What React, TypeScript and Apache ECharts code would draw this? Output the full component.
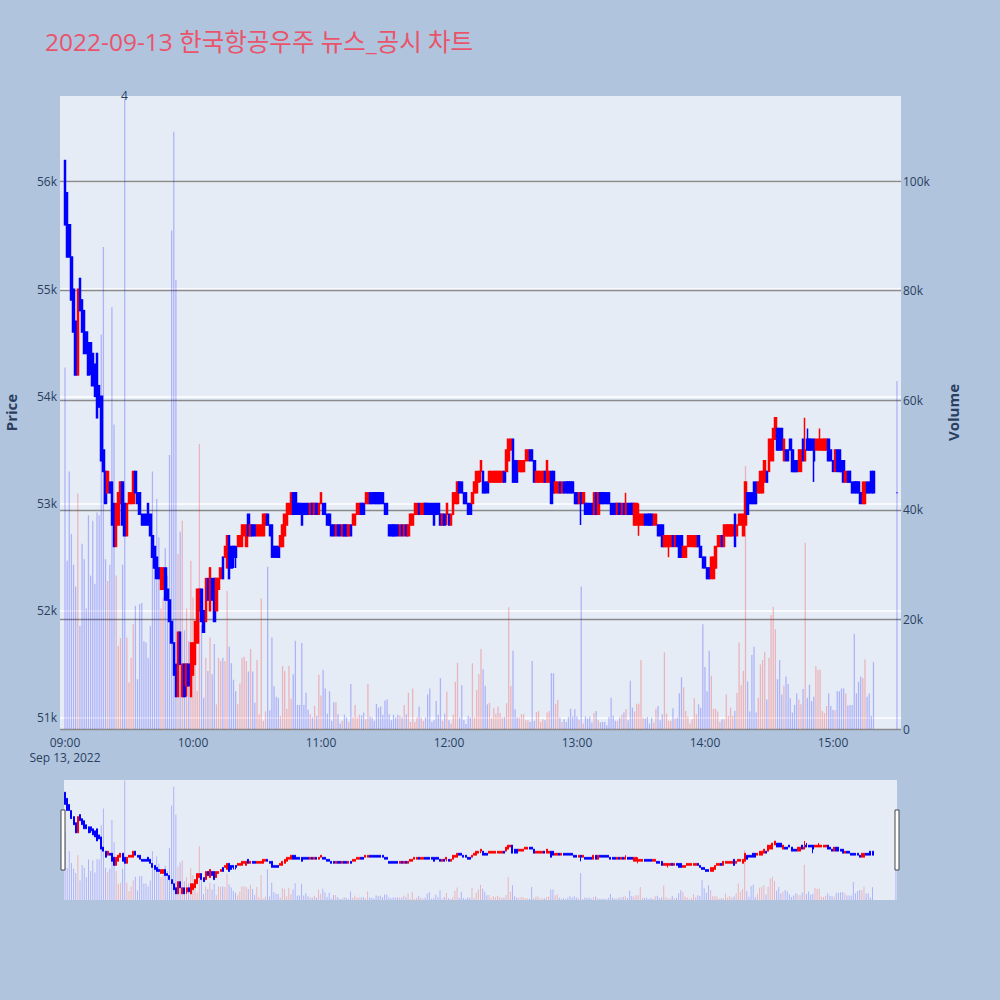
import React, { useEffect, useRef } from 'react';
import * as echarts from 'echarts';

const TITLE = '2022-09-13 한국항공우주 뉴스_공시 차트';
const DATE_LABEL = 'Sep 13, 2022';

// minute offsets from 09:00 (continuous session 09:00-15:19, closing auction 15:30)
const sessionMinutes: number[] = Array.from({ length: 380 }, (_, i) => i);
const closingMinutes: number[] = [390];
const minuteOffsets: number[] = sessionMinutes.concat(closingMinutes);

// [open, close, low, high]
const candles: number[][] = [
  [56200,55600,55600,56200],[55900,55300,55300,55900],[55600,55300,55300,55600],[55300,54900,54900,55300],[55000,54600,54600,55000],
  [54700,54200,54200,54700],[54200,55000,54200,55000],[55100,54800,54800,55100],[54900,54600,54600,54900],[54800,54400,54400,54800],
  [54600,54400,54400,54600],[54500,54200,54200,54500],[54500,54300,54200,54500],[54400,54100,54100,54400],[54300,54000,54000,54300],
  [54400,53800,53800,54400],[54100,53900,53900,54100],[54000,53400,53400,54000],[53500,53300,53300,53500],[53300,53000,53000,53300],
  [53100,53300,53100,53300],[53200,53100,53100,53200],[53200,52800,52800,53200],[53000,52600,52600,53000],[52600,53000,52600,53000],
  [52800,53100,52800,53100],[53000,53200,53000,53200],[53200,52800,52800,53200],[53000,52700,52700,53000],[52700,53000,52700,53000],
  [53000,53100,53000,53100],[53000,53100,53000,53100],[53000,53300,53000,53300],[53300,53100,53100,53300],[53100,53000,53000,53100],
  [53100,52900,52900,53100],[52900,52800,52800,52900],[52900,52800,52800,52900],[52900,52800,52800,52900],[53000,52800,52800,53000],
  [52900,52700,52700,52900],[52700,52500,52500,52700],[52600,52400,52400,52600],[52500,52300,52300,52500],[52400,52300,52300,52400],
  [52200,52400,52200,52400],[52200,52400,52200,52400],[52400,52100,52100,52400],[52200,52100,52100,52200],[52100,51900,51900,52100],
  [51900,51700,51700,51900],[51700,51400,51400,51700],[51500,51200,51200,51500],[51200,51800,51200,51800],[51800,51500,51500,51800],
  [51200,51500,51200,51500],[51500,51200,51200,51500],[51300,51500,51200,51500],[51500,51300,51300,51500],[51200,51700,51200,51700],
  [51400,51700,51400,51700],[51500,51900,51500,51900],[51700,52200,51700,52200],[52000,52200,52000,52200],[52200,51900,51900,52200],
  [52000,51800,51800,52000],[51900,52300,51900,52300],[52300,52100,52100,52300],[52000,52400,52000,52400],[52300,52100,52100,52300],
  [52300,51900,51900,52300],[52000,52300,52000,52300],[52200,52300,52200,52300],[52300,52400,52300,52400],[52500,52300,52300,52500],
  [52500,52600,52500,52600],[52400,52700,52400,52700],[52700,52300,52300,52700],[52600,52400,52400,52600],[52600,52500,52400,52600],
  [52600,52500,52400,52600],[52600,52700,52600,52700],[52600,52700,52600,52700],[52600,52800,52600,52800],[52700,52800,52700,52800],
  [52600,52800,52600,52800],[52900,52700,52700,52900],[52700,52800,52700,52800],[52800,52700,52700,52800],[52800,52700,52700,52800],
  [52700,52800,52700,52800],[52700,52800,52700,52800],[52700,52800,52700,52800],[52700,52900,52700,52900],[52800,52900,52800,52900],
  [52900,52800,52800,52900],[52800,52700,52700,52800],[52800,52500,52500,52800],[52600,52500,52500,52600],[52600,52500,52500,52600],
  [52600,52500,52500,52600],[52600,52700,52600,52700],[52600,52800,52600,52800],[52700,52900,52700,52900],[52800,53000,52800,53000],
  [52900,53000,52900,53000],[52900,53100,52900,53100],[53100,52900,52900,53100],[53100,52900,52900,53100],[53000,52900,52900,53000],
  [53000,52900,52900,53000],[53000,52800,52800,53000],[53000,52900,52900,53000],[53000,52900,52900,53000],[53000,52900,52900,53000],
  [52900,53000,52900,53000],[53000,52900,52900,53000],[52900,53000,52900,53000],[53000,52900,52900,53000],[52900,53000,52900,53000],
  [53000,53100,53000,53100],[53000,52900,52900,53000],[53000,52900,52900,53000],[52900,52800,52800,52900],[52900,52800,52800,52900],
  [52800,52700,52700,52800],[52800,52700,52700,52800],[52700,52800,52700,52800],[52800,52700,52700,52800],[52800,52700,52700,52800],
  [52700,52800,52700,52800],[52800,52700,52700,52800],[52800,52700,52700,52800],[52700,52800,52700,52800],[52800,52700,52700,52800],
  [52800,52900,52800,52900],[52800,52900,52800,52900],[52900,53000,52900,53000],[52900,53000,52900,53000],[53000,52900,52900,53000],
  [53000,52900,52900,53000],[53000,53100,53000,53100],[53000,53100,53000,53100],[53100,53000,53000,53100],[53100,53000,53000,53100],
  [53100,53000,53000,53100],[53100,53000,53000,53100],[53100,53000,53000,53100],[53100,53000,53000,53100],[53100,53000,53000,53100],
  [53000,52900,52900,53000],[53000,52900,52900,53000],[52800,52700,52700,52800],[52800,52700,52700,52800],[52800,52700,52700,52800],
  [52800,52700,52700,52800],[52800,52700,52700,52800],[52700,52800,52700,52800],[52800,52700,52700,52800],[52700,52800,52700,52800],
  [52800,52700,52700,52800],[52700,52800,52700,52800],[52800,52900,52800,52900],[52800,52900,52800,52900],[52900,53000,52900,53000],
  [52900,53000,52900,53000],[53000,52900,52900,53000],[52900,53000,52900,53000],[52900,53000,52900,53000],[53000,52900,52900,53000],
  [53000,52900,52900,53000],[53000,52900,52900,53000],[53000,52900,52900,53000],[53000,52800,52800,53000],[53000,52900,52900,53000],
  [53000,52900,52900,53000],[52900,52800,52800,52900],[52800,52900,52800,52900],[52900,52800,52800,52900],[52900,53000,52800,53000],
  [52900,52800,52800,52900],[52800,52900,52800,52900],[52900,53100,52900,53100],[53000,53100,53000,53100],[53000,53200,53000,53200],
  [53200,53100,53100,53200],[53200,53100,53100,53200],[53100,53000,53000,53100],[53100,53000,53000,53100],[53000,52900,52900,53000],
  [53000,52900,52900,53000],[53000,53100,53000,53100],[53100,53200,53100,53200],[53100,53300,53100,53300],[53200,53300,53200,53300],
  [53300,53400,53200,53400],[53300,53100,53100,53300],[53200,53100,53100,53200],[53200,53100,53100,53200],[53200,53300,53200,53300],
  [53200,53300,53200,53300],[53200,53300,53200,53300],[53200,53300,53200,53300],[53200,53300,53200,53300],[53200,53300,53200,53300],
  [53200,53300,53200,53300],[53300,53200,53200,53300],[53300,53500,53300,53500],[53400,53600,53400,53600],[53500,53600,53500,53600],
  [53600,53200,53200,53600],[53400,53200,53200,53400],[53400,53200,53200,53400],[53300,53400,53300,53400],[53300,53400,53300,53400],
  [53300,53400,53300,53400],[53400,53500,53400,53500],[53400,53500,53400,53500],[53500,53400,53400,53500],[53500,53400,53400,53500],
  [53400,53200,53200,53400],[53200,53300,53200,53300],[53200,53300,53200,53300],[53200,53300,53200,53300],[53200,53300,53200,53300],
  [53300,53200,53200,53300],[53200,53400,53200,53400],[53200,53300,53200,53300],[53300,53000,53000,53300],[53300,53100,53100,53300],
  [53100,53200,53100,53200],[53100,53200,53100,53200],[53200,53100,53100,53200],[53100,53200,53100,53200],[53200,53100,53100,53200],
  [53200,53100,53100,53200],[53200,53100,53100,53200],[53200,53100,53100,53200],[53200,53100,53100,53200],[53100,53000,53000,53100],
  [53100,53000,53000,53100],[53000,53100,53000,53100],[53100,53000,52800,53100],[53000,53100,53000,53100],[53000,52900,52900,53000],
  [53000,52900,52900,53000],[53000,52900,52900,53000],[53000,52900,52900,53000],[52900,53100,52900,53100],[53100,52900,52900,53100],
  [52900,53100,52900,53100],[53100,53000,53000,53100],[53100,53000,53000,53100],[53100,53000,53000,53100],[53100,53000,53000,53100],
  [53100,53000,53000,53100],[53000,52900,52900,53000],[53000,52900,52900,53000],[53000,52900,52900,53000],[52900,53000,52900,53000],
  [53000,52900,52900,53000],[52900,53000,52900,53000],[53000,52900,52900,53000],[52900,53000,52900,53100],[53000,52900,52900,53000],
  [53000,52900,52900,53000],[53000,52900,52900,53000],[52800,53000,52800,53000],[52800,53000,52800,53000],[52800,52900,52700,53000],
  [52800,52900,52800,52900],[52800,52900,52800,52900],[52900,52800,52800,52900],[52900,52800,52800,52900],[52900,52800,52800,52900],
  [52900,52800,52800,52900],[52800,52900,52800,52900],[52800,52900,52800,52900],[52800,52700,52700,52800],[52800,52700,52700,52800],
  [52800,52600,52600,52800],[52600,52700,52600,52700],[52600,52700,52600,52700],[52600,52700,52500,52700],[52600,52700,52600,52700],
  [52700,52600,52600,52700],[52600,52700,52600,52700],[52700,52600,52600,52700],[52700,52500,52500,52700],[52700,52500,52500,52700],
  [52500,52600,52500,52600],[52500,52600,52500,52600],[52600,52700,52600,52700],[52600,52700,52600,52700],[52600,52700,52600,52700],
  [52600,52700,52600,52700],[52600,52700,52600,52700],[52700,52600,52600,52700],[52600,52500,52500,52600],[52500,52400,52400,52500],
  [52500,52400,52400,52500],[52400,52300,52300,52400],[52400,52300,52300,52400],[52300,52500,52300,52500],[52300,52500,52300,52500],
  [52400,52600,52400,52600],[52600,52700,52600,52700],[52600,52700,52600,52700],[52700,52600,52600,52700],[52600,52800,52600,52800],
  [52700,52800,52700,52800],[52700,52800,52700,52800],[52700,52800,52700,52800],[52700,52800,52700,52800],[52900,52600,52600,52900],
  [52700,52800,52700,52800],[52800,52900,52800,52900],[52800,52900,52800,52900],[52700,52900,52700,52900],[52800,53200,52800,53200],
  [53100,52900,52900,53100],[53100,53000,53000,53100],[53100,53000,53000,53100],[53200,53000,53000,53200],[53200,53000,53000,53200],
  [53100,53200,53100,53200],[53100,53300,53100,53300],[53100,53300,53100,53300],[53200,53400,53200,53400],[53300,53200,53200,53300],
  [53300,53600,53300,53600],[53400,53600,53400,53600],[53400,53700,53400,53700],[53600,53800,53600,53800],[53700,53500,53500,53700],
  [53700,53500,53500,53700],[53700,53500,53500,53700],[53400,53600,53400,53600],[53500,53400,53400,53500],[53500,53400,53400,53500],
  [53600,53500,53500,53600],[53500,53300,53300,53500],[53400,53300,53300,53400],[53400,53300,53300,53400],[53300,53500,53300,53500],
  [53300,53500,53300,53500],[53600,53400,53400,53600],[53400,53500,53400,53800],[53600,53500,53500,53700],[53600,53500,53500,53600],
  [53600,53500,53500,53600],[53600,53400,53200,53600],[53500,53600,53500,53600],[53500,53600,53500,53600],[53500,53600,53500,53700],
  [53500,53600,53500,53600],[53500,53600,53500,53600],[53500,53600,53500,53600],[53600,53400,53400,53600],[53500,53400,53400,53500],
  [53400,53300,53300,53400],[53300,53500,53300,53500],[53500,53300,53300,53500],[53500,53300,53300,53500],[53400,53300,53300,53400],
  [53400,53200,53200,53400],[53200,53300,53200,53300],[53300,53200,53200,53300],[53300,53200,53200,53300],[53200,53100,53100,53200],
  [53200,53100,53100,53200],[53200,53100,53100,53200],[53200,53100,53100,53200],[53100,53000,53000,53100],[53000,53200,53000,53200],
  [53000,53200,53000,53200],[53200,53100,53100,53200],[53200,53100,53100,53200],[53300,53100,53100,53300],[53300,53100,53100,53300],
  [53100,53100,53100,53100],
];

const volumes: number[] = [
  66000,30700,47000,35600,30000,26000,43000,18800,33800,31000,
  22000,39000,28000,38000,26500,39500,39000,72000,88000,31000,
  27000,30000,77000,55600,28000,15200,16600,30000,115000,16700,
  8500,13000,19100,22500,9100,22800,23000,16000,15800,13000,
  18800,47000,32000,42000,35000,22000,24000,33000,28000,50000,
  91000,109000,82000,32000,36000,38000,18000,22000,16000,30700,
  24000,12400,6900,52000,19000,5700,13000,10600,16700,10000,
  15500,4500,13000,12400,13000,12400,25200,15000,12000,9000,
  6900,4500,8300,13000,13200,12400,10500,14600,10500,4800,
  12600,2700,23800,1500,3200,29600,3400,16700,7800,5900,
  5700,2400,11500,10600,3700,11500,5500,10000,16100,4400,
  4400,15700,4400,6600,3500,2700,2100,4200,2400,9900,
  6100,10800,7400,2800,6900,1500,4900,4900,2700,1000,
  1500,2600,2100,1300,8200,2100,4400,2100,2600,2500,
  3000,1800,8200,2300,2100,1500,4600,3900,4100,2600,
  5200,5400,2700,1600,2600,2100,2600,2400,2100,4400,
  2700,6600,1300,7400,1300,2100,4100,2100,1500,2100,
  6300,7400,1300,1600,5100,2600,9300,1500,2800,6800,
  1600,1000,2600,8600,12100,2100,8000,1600,900,2400,
  2100,12000,2100,7100,10000,14600,10900,7900,4500,4800,
  2000,3900,2800,4100,2900,2100,2200,4700,22200,7900,
  14300,3600,2100,2100,2700,2700,1600,1600,1300,12400,
  1500,3100,3300,1300,1800,1600,3000,3300,10200,10200,
  4600,5300,2100,1300,1800,1300,2200,3700,2300,3600,
  2300,1700,26000,1000,2300,1900,2300,1200,2900,3300,
  1600,1200,1300,1300,700,2200,5700,2400,1500,1500,
  2100,2600,3000,3600,1600,8800,3900,3200,4600,4600,
  12600,2100,1900,2200,1000,2100,1200,3700,4200,1600,
  2700,14000,2800,1500,1500,3800,1900,2100,6500,9400,
  7600,3300,2300,1000,1800,5600,2700,4500,3900,19100,
  11300,6900,14300,9700,3700,3700,3200,1300,1800,1800,
  6300,2400,3900,2400,3300,6600,15800,8000,10600,48000,
  8700,3200,13500,15000,3000,5700,11800,12600,14100,5400,
  13000,20800,22300,18200,9100,12600,6300,7900,9600,8200,
  5600,3000,4400,6500,5400,4500,7300,34000,5700,8100,
  5100,5900,11500,10800,10800,3300,2900,4200,6500,4200,
  3500,3400,6900,6900,7400,7400,6500,4300,4400,4400,
  17400,6500,8600,9600,9300,12700,5900,6500,2400,12200,
  63500,
];

const timeTicks: number[] = [0, 60, 120, 180, 240, 300, 360];
const priceTicks: number[] = [51000, 52000, 53000, 54000, 55000, 56000];
const volumeTicks: number[] = [0, 20000, 40000, 60000, 80000, 100000];

const UP = '#FF0000';
const DOWN = '#0000FF';
const UP_VOL = 'rgba(255,0,0,0.24)';
const DOWN_VOL = 'rgba(0,0,255,0.24)';
const FONT = '"Open Sans", verdana, arial, "Noto Sans CJK KR", sans-serif';
const AXIS_TXT = '#2a3f5f';

function fmtTime(v: number): string {
  const h = 9 + Math.floor(v / 60);
  const m = v % 60;
  return String(h).padStart(2, '0') + ':' + String(m).padStart(2, '0');
}

function fmtK(v: number): string {
  return v === 0 ? '0' : v / 1000 + 'k';
}

export default function App() {
  const ref = useRef<HTMLDivElement>(null);

  useEffect(() => {
    if (!ref.current) return;
    const chart = echarts.init(ref.current, undefined, { renderer: 'svg', width: 1000, height: 1000 });

    const candleItems = minuteOffsets.map((m, i) => {
      const [o, c, l, h] = candles[i];
      const col = c > o ? UP : DOWN;
      return { value: [m, o, c, l, h], itemStyle: { color: col, color0: col, borderColor: col, borderColor0: col } };
    });
    const volItems = minuteOffsets.map((m, i) => {
      const [o, c] = candles[i];
      return { value: [m, volumes[i]], itemStyle: { color: c > o ? UP_VOL : DOWN_VOL } };
    });

    const priceMin = 50897;
    const priceMax = 56802;
    const volMax = 115540;

    const option: any = {
      animation: false,
      backgroundColor: '#B0C4DE',
      title: {
        text: TITLE,
        left: 40,
        top: 24,
        textStyle: { fontSize: 24.5, fontWeight: 'normal', color: '#E9546B', fontFamily: FONT },
      },
      grid: [
        { left: 60, top: 96, width: 841, height: 633, show: true, backgroundColor: '#E5ECF6', borderWidth: 0, containLabel: false, outerBoundsMode: 'none' },
        { left: 64, top: 780, width: 833, height: 120, show: true, backgroundColor: '#E5ECF6', borderWidth: 0, containLabel: false, outerBoundsMode: 'none' },
      ],
      xAxis: [
        {
          type: 'value', gridIndex: 0, min: -2.34, max: 391.9,
          axisLine: { show: false }, axisTick: { show: false, customValues: timeTicks },
          splitLine: { show: false },
          axisLabel: {
            customValues: timeTicks, color: AXIS_TXT, fontSize: 12, fontFamily: FONT, margin: 6, lineHeight: 15,
            formatter: (v: number) => (v === 0 ? fmtTime(v) + '\n' + DATE_LABEL : fmtTime(v)),
          },
        },
        { type: 'value', gridIndex: 1, min: -0.5, max: 390.5, show: false },
      ],
      yAxis: [
        {
          type: 'value', gridIndex: 0, position: 'left', min: priceMin, max: priceMax,
          name: 'Price', nameLocation: 'middle', nameGap: 42, nameRotate: 90,
          nameTextStyle: { color: AXIS_TXT, fontSize: 15, fontWeight: 'bold', fontFamily: FONT },
          axisLine: { show: false }, axisTick: { show: false, customValues: priceTicks },
          axisLabel: { customValues: priceTicks, formatter: fmtK, color: AXIS_TXT, fontSize: 12, fontFamily: FONT, margin: 3 },
          splitLine: { show: true, lineStyle: { color: '#FFFFFF', width: 1.5 } },
        },
        {
          type: 'value', gridIndex: 0, position: 'right', min: 0, max: volMax,
          name: 'Volume', nameLocation: 'middle', nameGap: 44, nameRotate: 90,
          nameTextStyle: { color: AXIS_TXT, fontSize: 15, fontWeight: 'bold', fontFamily: FONT },
          axisLine: { show: false }, axisTick: { show: false, customValues: volumeTicks },
          axisLabel: { customValues: volumeTicks, formatter: fmtK, color: AXIS_TXT, fontSize: 12, fontFamily: FONT, margin: 2 },
          splitLine: { show: true, lineStyle: { color: '#8a8a8a', width: 1.3 } },
        },
        { type: 'value', gridIndex: 1, min: priceMin, max: priceMax, show: false, splitLine: { show: false } },
        { type: 'value', gridIndex: 1, min: 0, max: volMax, show: false, splitLine: { show: false } },
      ],
      series: [
        { type: 'bar', xAxisIndex: 0, yAxisIndex: 1, data: volItems, barWidth: 1.3, silent: true, z: 1 },
        {
          type: 'candlestick', xAxisIndex: 0, yAxisIndex: 0, data: candleItems, barWidth: 2, z: 3,
          itemStyle: { color: UP, color0: DOWN, borderColor: UP, borderColor0: DOWN, borderWidth: 1.5 },
        },
        { type: 'bar', xAxisIndex: 1, yAxisIndex: 3, data: volItems, barWidth: 1, silent: true, z: 1 },
        {
          type: 'candlestick', xAxisIndex: 1, yAxisIndex: 2, data: candleItems, barWidth: 1.5, z: 3,
          itemStyle: { color: UP, color0: DOWN, borderColor: UP, borderColor0: DOWN, borderWidth: 1 },
        },
      ],
      graphic: [
        { type: 'text', left: 121, top: 89, z: 10, style: { text: '4', fill: AXIS_TXT, fontSize: 12, fontFamily: FONT } },
        { type: 'rect', shape: { x: 61, y: 810, width: 4, height: 60 }, style: { fill: '#FFFFFF', stroke: '#444444', lineWidth: 1 }, z: 10 },
        { type: 'rect', shape: { x: 895, y: 810, width: 4, height: 60 }, style: { fill: '#FFFFFF', stroke: '#444444', lineWidth: 1 }, z: 10 },
      ],
    };

    chart.setOption(option);
    return () => chart.dispose();
  }, []);

  return (
    <div
      ref={ref}
      style={{ position: 'fixed', left: 0, top: 0, width: 1000, height: 1000, background: '#B0C4DE' }}
    />
  );
}
